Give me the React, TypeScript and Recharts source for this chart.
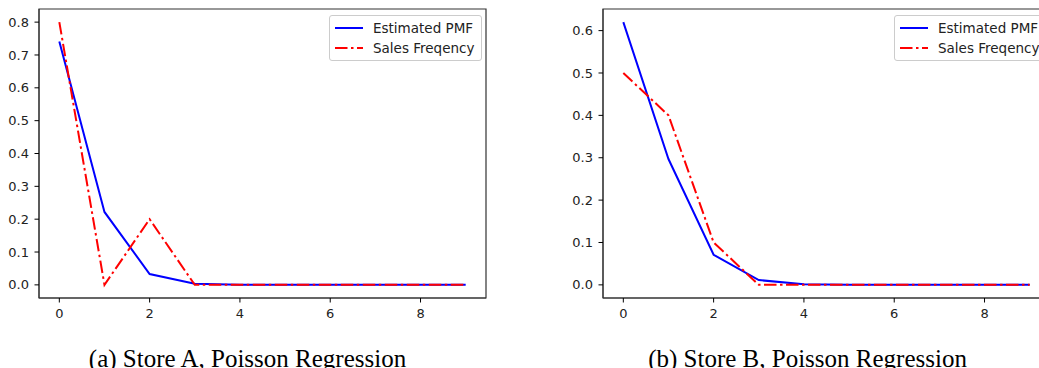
import React from 'react';
import { LineChart, Line, XAxis, YAxis, Legend, ReferenceArea } from 'recharts';

// sales count on the x axis
const counts = [0, 1, 2, 3, 4, 5, 6, 7, 8, 9];

// store A
const pmfA = [0.741, 0.222, 0.033, 0.0033, 0.0003, 0, 0, 0, 0, 0];
const freqA = [0.8, 0, 0.2, 0, 0, 0, 0, 0, 0, 0];

// store B
const pmfB = [0.62, 0.297, 0.071, 0.0113, 0.0014, 0.0001, 0, 0, 0, 0];
const freqB = [0.5, 0.4, 0.1, 0, 0, 0, 0, 0, 0, 0];

const xTicks = [0, 2, 4, 6, 8];
const yTicksA = [0, 0.1, 0.2, 0.3, 0.4, 0.5, 0.6, 0.7, 0.8];
const yTicksB = [0, 0.1, 0.2, 0.3, 0.4, 0.5, 0.6];

const captionA = '(a) Store A, Poisson Regression';
const captionB = '(b) Store B, Poisson Regression';

const FONT = '"DejaVu Sans", sans-serif';
const DASHDOT = '12.5 3.5 2.5 3.5';
const X_DOMAIN: [number, number] = [-0.45, 9.45];

type Row = { k: number; pmf: number; freq: number };

const build = (pmf: number[], freq: number[]): Row[] =>
  counts.map((k, i) => ({ k, pmf: pmf[i], freq: freq[i] }));

const LegendBox = ({ payload }: any) => (
  <div
    style={{
      border: '1px solid #cccccc',
      borderRadius: 3,
      background: 'rgba(255,255,255,0.8)',
      padding: '2px 7px 2px 5px',
      fontFamily: FONT,
      fontSize: 13.5,
      color: '#222',
      whiteSpace: 'nowrap',
    }}
  >
    {(payload || []).map((p: any) => (
      <div key={p.value} style={{ height: 20, lineHeight: '20px', display: 'flex', alignItems: 'center' }}>
        <svg width={28} height={20} style={{ marginRight: 10 }}>
          <line
            x1={0}
            x2={28}
            y1={10}
            y2={10}
            stroke={p.color}
            strokeWidth={2}
            strokeDasharray={p.payload?.strokeDasharray}
          />
        </svg>
        <span>{p.value}</span>
      </div>
    ))}
  </div>
);

type PanelProps = {
  data: Row[];
  yTicks: number[];
  yDomain: [number, number];
  left: number;
  width: number;
  marginLeft: number;
  marginRight: number;
  legendLeft: number;
};

function Panel({ data, yTicks, yDomain, left, width, marginLeft, marginRight, legendLeft }: PanelProps) {
  const tickStyle = { fontFamily: FONT, fontSize: 13, fill: '#222' };
  return (
    <div style={{ position: 'absolute', left, top: 0 }}>
      <LineChart
        width={width}
        height={320}
        data={data}
        margin={{ top: 9, right: marginRight, bottom: 0, left: marginLeft }}
      >
        <XAxis
          dataKey="k"
          type="number"
          domain={X_DOMAIN}
          ticks={xTicks}
          allowDataOverflow
          height={22}
          tick={tickStyle}
          tickSize={4.5}
          tickMargin={6.5}
          stroke="#333"
          tickLine={{ stroke: '#000' }}
        />
        <YAxis
          type="number"
          domain={yDomain}
          ticks={yTicks}
          allowDataOverflow
          width={39}
          tick={tickStyle}
          tickFormatter={(v: number) => v.toFixed(1)}
          tickSize={4.5}
          tickMargin={5.5}
          stroke="#333"
          tickLine={{ stroke: '#000' }}
        />
        {/* box around the plot area */}
        <ReferenceArea
          x1={X_DOMAIN[0]}
          x2={X_DOMAIN[1]}
          y1={yDomain[0]}
          y2={yDomain[1]}
          fill="none"
          fillOpacity={0}
          stroke="#333"
          strokeWidth={1.2}
          ifOverflow="visible"
        />
        <Legend
          layout="vertical"
          align="center"
          verticalAlign="middle"
          content={<LegendBox />}
          wrapperStyle={{ top: 15, left: legendLeft, width: 'auto' }}
        />
        <Line
          type="linear"
          dataKey="pmf"
          name="Estimated PMF"
          stroke="#0000ff"
          strokeWidth={2}
          dot={false}
          isAnimationActive={false}
        />
        <Line
          type="linear"
          dataKey="freq"
          name="Sales Freqency"
          stroke="#ff0000"
          strokeWidth={2}
          strokeDasharray={DASHDOT}
          dot={false}
          isAnimationActive={false}
        />
      </LineChart>
    </div>
  );
}

const captionStyle: React.CSSProperties = {
  position: 'absolute',
  top: 350,
  height: 18,
  lineHeight: '18px',
  fontFamily: '"Liberation Serif", "DejaVu Serif", serif',
  fontSize: 25,
  color: '#000',
  whiteSpace: 'nowrap',
  transform: 'translateX(-50%)',
};

export default function App() {
  return (
    <div
      style={{
        position: 'absolute',
        left: 0,
        top: 0,
        width: 1039,
        height: 368,
        overflow: 'hidden',
        background: '#fff',
      }}
    >
      <Panel
        data={build(pmfA, freqA)}
        yTicks={yTicksA}
        yDomain={[-0.04, 0.84]}
        left={0}
        width={520}
        marginLeft={0}
        marginRight={34}
        legendLeft={329}
      />
      <Panel
        data={build(pmfB, freqB)}
        yTicks={yTicksB}
        yDomain={[-0.031, 0.651]}
        left={520}
        width={540}
        marginLeft={44}
        marginRight={10}
        legendLeft={374}
      />
      <div style={{ ...captionStyle, left: 247.5 }}>{captionA}</div>
      <div style={{ ...captionStyle, left: 807.5 }}>{captionB}</div>
    </div>
  );
}
